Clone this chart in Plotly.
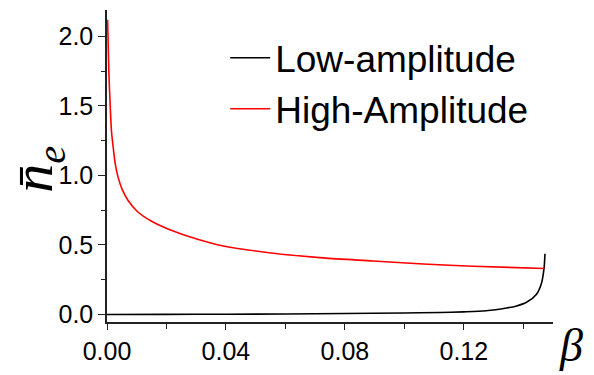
import plotly.graph_objects as go

# High-amplitude branch (red)
red_beta = [0.0002, 0.0006, 0.0011, 0.0015, 0.0021, 0.0028, 0.0037, 0.0051, 0.0071,
            0.0102, 0.0147, 0.0203, 0.027, 0.0346, 0.0391, 0.0559, 0.0727, 0.0895,
            0.1063, 0.1231, 0.1472]
red_n = [2.12, 1.76, 1.49, 1.32, 1.20, 1.08, 0.99, 0.90, 0.82,
         0.741, 0.674, 0.617, 0.565, 0.516, 0.493, 0.441, 0.407, 0.385,
         0.363, 0.347, 0.331]

# Low-amplitude branch (black)
black_beta = [0, 0.02, 0.04, 0.06, 0.08, 0.10, 0.112, 0.12, 0.1275, 0.1344, 0.1375,
              0.1411, 0.1444, 0.1461, 0.147, 0.1473]
black_n = [0, 0.001, 0.002, 0.004, 0.007, 0.011, 0.0145, 0.019, 0.027, 0.047, 0.06,
           0.088, 0.144, 0.223, 0.335, 0.437]

x_ticks = [0.00, 0.04, 0.08, 0.12]
x_tick_labels = ["0.00", "0.04", "0.08", "0.12"]
y_ticks = [0.0, 0.5, 1.0, 1.5, 2.0]
y_tick_labels = ["0.0", "0.5", "1.0", "1.5", "2.0"]

fig = go.Figure()
fig.add_trace(go.Scatter(x=black_beta, y=black_n, mode="lines", name="Low-amplitude",
                         line=dict(color="#000000", width=1.6, shape="spline", smoothing=0.8)))
fig.add_trace(go.Scatter(x=red_beta, y=red_n, mode="lines", name="High-Amplitude",
                         line=dict(color="#ff0000", width=1.6, shape="spline", smoothing=0.8)))

axis_font = dict(family="Liberation Sans", size=25, color="#000")

fig.update_layout(
    width=594, height=375,
    margin=dict(l=107, r=41, t=10, b=34),
    paper_bgcolor="white", plot_bgcolor="white",
    showlegend=True,
    legend=dict(x=0.265, y=0.945, xanchor="left", yanchor="top",
                font=dict(family="Liberation Sans", size=37, color="#000"),
                bgcolor="rgba(0,0,0,0)", tracegroupgap=0, itemwidth=40),
    xaxis=dict(range=[0, 0.15], tickvals=x_ticks, ticktext=x_tick_labels,
               showgrid=False, zeroline=False, showline=True, linecolor="#222", linewidth=1.5,
               ticks="outside", ticklen=6, tickwidth=1.3, tickcolor="#222",
               tickfont=axis_font,
               minor=dict(dtick=0.02, tick0=0, ticks="outside", ticklen=5, tickwidth=1.3, tickcolor="#222")),
    yaxis=dict(range=[-0.054, 2.19], tickvals=y_ticks, ticktext=y_tick_labels,
               showgrid=False, zeroline=False, showline=True, linecolor="#222", linewidth=1.5,
               ticks="outside", ticklen=7, tickwidth=1.3, tickcolor="#222",
               tickfont=axis_font,
               minor=dict(dtick=0.25, tick0=0, ticks="outside", ticklen=4, tickwidth=1.3, tickcolor="#222")),
)

fig.add_annotation(xref="paper", yref="paper", x=-0.158, y=0.49, xanchor="center", yanchor="middle",
                   text="<i>n\u0304</i><sub><i>e</i></sub>", textangle=-90, showarrow=False,
                   font=dict(family="Liberation Serif", size=58, color="#000"))
fig.add_annotation(xref="paper", yref="paper", x=1.04, y=-0.075, xanchor="center", yanchor="middle",
                   text="<i>β</i>", showarrow=False,
                   font=dict(family="Liberation Serif", size=46, color="#000"))

fig.write_html("out.html")
